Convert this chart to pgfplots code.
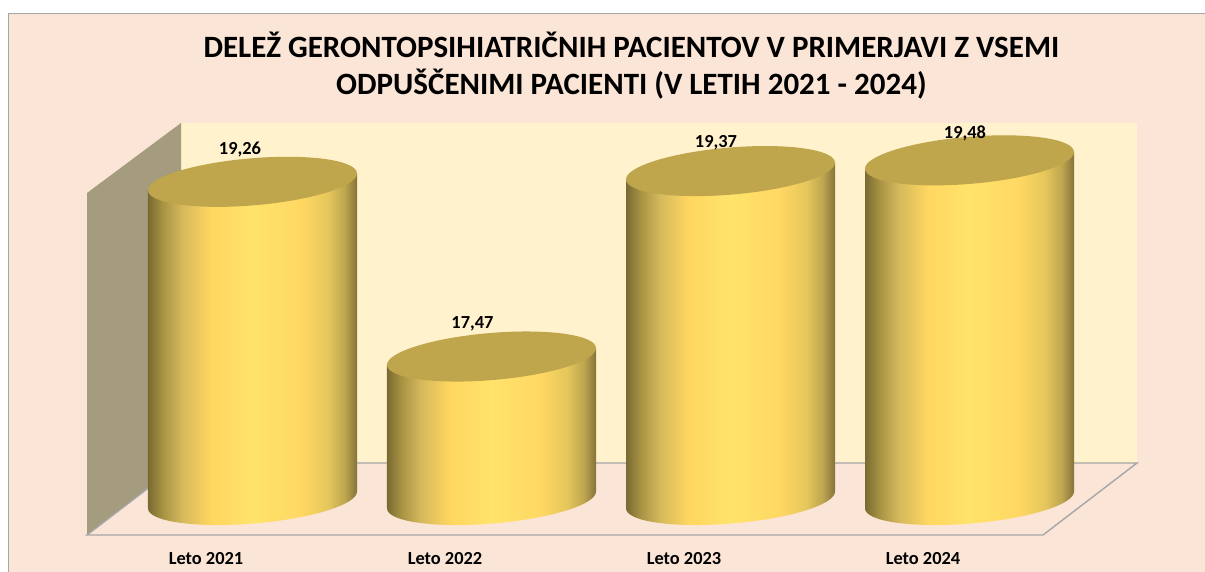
\documentclass[border=0pt]{standalone}
\usepackage{fontspec}
\setmainfont{Carlito}
\usepackage{pgfplots}
\usepackage{pgfplotstable}
\pgfplotsset{compat=1.18}
\definecolor{peach}{HTML}{FBE5D6}
\definecolor{wall}{HTML}{FFF2CC}
\definecolor{sidewall}{HTML}{A59C80}
\definecolor{frame}{HTML}{A6A6A6}
\definecolor{captop}{HTML}{BFA54C}
\definecolor{cA}{HTML}{7A6A32}
\definecolor{cAb}{HTML}{A89344}
\definecolor{cB}{HTML}{D4B85C}
\definecolor{cC}{HTML}{FFD660}
\definecolor{cD}{HTML}{FFE36B}
\definecolor{cE}{HTML}{FFD863}
\definecolor{cEb}{HTML}{E6C75C}
\definecolor{cF}{HTML}{BFA650}
\definecolor{cG}{HTML}{85733A}
\pgfdeclarehorizontalshading{cyl}{100bp}{
 color(0bp)=(cA);color(25bp)=(cA);color(28.5bp)=(cAb);
 color(33bp)=(cB);color(40bp)=(cC);
 color(50bp)=(cD);color(61.5bp)=(cE);color(68bp)=(cEb);
 color(72bp)=(cF);color(75bp)=(cG);color(100bp)=(cG)}
\pgfplotstableread{
x y dx dy
0 19.26 -12.5 32
1 17.47 -19 33
2 19.37 -14.5 28
3 19.48 -4.5 27
}\shares
\pgfdeclareplotmark{cyl}{%
 \pgfmathsetmacro{\H}{\h*97.6}%
 \pgfscope
  \pgfpathmoveto{\pgfqpoint{-104.5pt}{-8.36pt}}%
  \pgfpathlineto{\pgfpoint{-104.5pt}{-8.36pt-\H pt}}%
  \pgfpatharcaxes{180}{360}{\pgfqpoint{104.5pt}{8.36pt}}{\pgfqpoint{0pt}{23.6pt}}%
  \pgfpathlineto{\pgfqpoint{104.5pt}{8.36pt}}%
  \pgfpathclose
  \pgfshadepath{cyl}{0}%
  \pgfusepath{discard}%
 \endpgfscope
 \pgfscope
  \pgfsetfillcolor{captop}%
  \pgfpathellipse{\pgfpointorigin}{\pgfqpoint{104.5pt}{8.36pt}}{\pgfqpoint{0pt}{23.6pt}}%
  \pgfusepath{fill}%
 \endpgfscope
}
\begin{document}
\begin{tikzpicture}[x=1pt,y=1pt]
\useasboundingbox (0,0) rectangle (1205,572);
\fill[white] (0,0) rectangle (1205,572);
\fill[peach,draw=frame,line width=0.9pt] (8,-2) rectangle (1210,559);
\fill[wall] (181,109) rectangle (1137,449);
\fill[sidewall] (87,379) -- (181,449) -- (181,109) -- (87,37) -- cycle;
\draw[frame,line width=1.4pt] (87,37) -- (181,109) -- (1137,109) -- (1043,37) -- cycle;
\begin{axis}[
  at={(0,0)},anchor=south west,
  scale only axis,width=1205pt,height=572pt,
  xmin=-1.05648,xmax=3.98536,ymin=15.2623,ymax=21.123,
  clip=false,
  axis line style={draw=none},
  tick style={draw=none},
  ytick=\empty,
  xtick={-0.1946,0.8054,1.8054,2.8054},
  xticklabels={Leto 2021,Leto 2022,Leto 2023,Leto 2024},
  x tick label style={font=\bfseries\fontsize{18.4}{18.4}\selectfont,anchor=center,yshift=13pt,text=black},
  title={DELEŽ GERONTOPSIHIATRIČNIH PACIENTOV V PRIMERJAVI Z VSEMI\\ODPUŠČENIMI PACIENTI (V LETIH 2021 - 2024)},
  title style={at={(axis description cs:0.524,0.875)},anchor=center,align=center,
     font=\bfseries\fontsize{31}{37}\selectfont,text=black},
  /pgf/number format/.cd,use comma,fixed,fixed zerofill,precision=2,assume math mode=true,
]
\addplot[scatter,only marks,mark=cyl,point meta=y,
  visualization depends on={\thisrow{y}-16 \as \h},
  visualization depends on={\thisrow{dx} \as \dx},
  visualization depends on={\thisrow{dy} \as \dy},
  nodes near coords,
  every node near coord/.append style={anchor=center,inner sep=0pt,xshift=\dx pt,yshift=\dy pt,
     font=\bfseries\fontsize{18.4}{18.4}\selectfont,text=black},
] table[x=x,y=y] {\shares};
\end{axis}
\end{tikzpicture}
\end{document}
